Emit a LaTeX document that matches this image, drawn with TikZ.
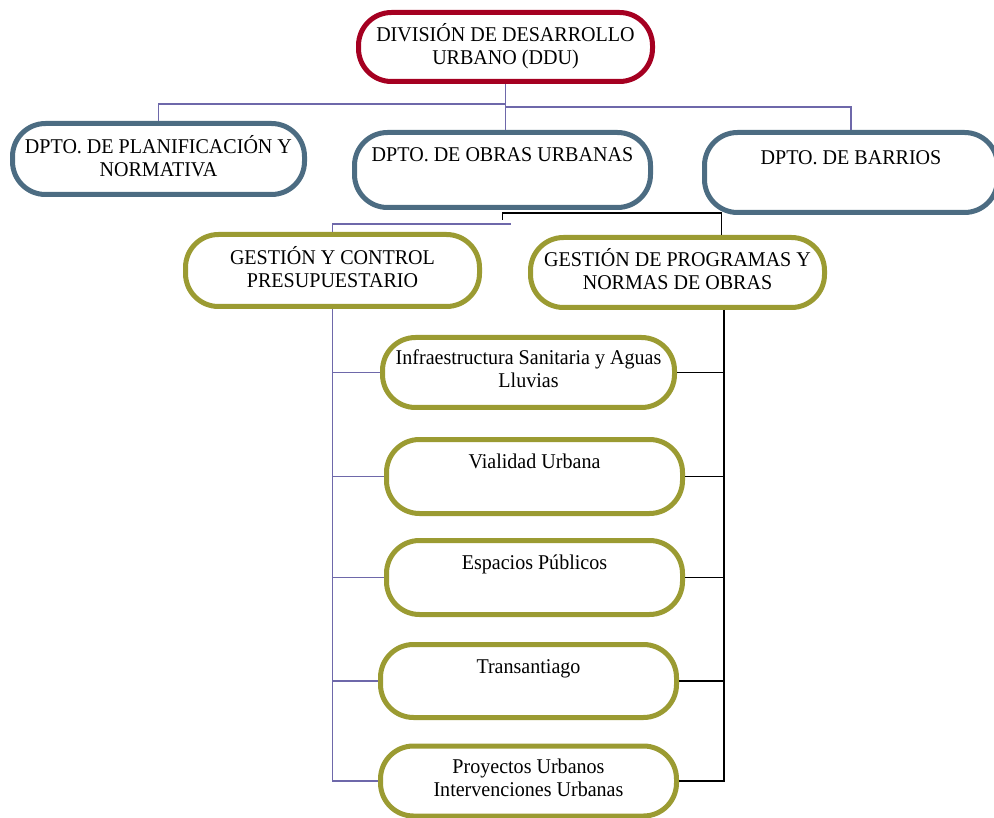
\documentclass[tikz,border=0pt]{standalone}
\usepackage{fontspec}
\setmainfont[FakeStretch=0.955]{Liberation Serif}
\usepackage{tikz}

\definecolor{dirred}{RGB}{165,0,33}
\definecolor{dptoblue}{RGB}{76,108,130}
\definecolor{secolive}{RGB}{155,155,50}
\definecolor{linkpurple}{RGB}{110,104,170}

\begin{document}
\begin{tikzpicture}[x=1pt,y=-1pt,
    unit/.style={draw, line width=5pt, rounded corners=33pt, align=center, inner sep=2pt,
      font=\fontsize{21}{23}\selectfont,
      execute at begin node={\rule{0pt}{26pt}}, execute at end node={\strut}},
    dirbox/.style={unit, draw=dirred},
    dptobox/.style={unit, draw=dptoblue},
    secbox/.style={unit, draw=secolive},
    plink/.style={draw=linkpurple, line width=1.4pt},
    blink/.style={draw=black, line width=1.6pt}]
    \useasboundingbox (0,0) rectangle (994,818);

    % division
    \node[dirbox, minimum width=294pt, minimum height=69pt] (ddu) at (505.5,47)
      {DIVISIÓN DE DESARROLLO\\URBANO (DDU)};

    % departamentos
    \node[dptobox, minimum width=292pt, minimum height=71pt] (plan) at (158.5,159)
      {DPTO. DE PLANIFICACIÓN Y\\NORMATIVA};
    \node[dptobox, minimum width=296pt, minimum height=75pt] (obras) at (502.5,170)
      {DPTO. DE OBRAS URBANAS\\};
    \node[dptobox, minimum width=293pt, minimum height=80pt] (barrios) at (851,172.5)
      {DPTO. DE BARRIOS\\};

    % gestion
    \node[secbox, minimum width=294pt, minimum height=72pt] (gcp) at (332.5,270.5)
      {GESTIÓN Y CONTROL\\PRESUPUESTARIO};
    \node[secbox, minimum width=294pt, minimum height=70pt] (gpno) at (677.5,272.5)
      {GESTIÓN DE PROGRAMAS Y\\NORMAS DE OBRAS};

    % areas
    \node[secbox, minimum width=292pt, minimum height=70pt] (infra) at (528.5,372.5)
      {Infraestructura Sanitaria y Aguas\\Lluvias};
    \node[secbox, minimum width=296pt, minimum height=74pt] (vial) at (534.5,476.5)
      {Vialidad Urbana\\};
    \node[secbox, minimum width=296pt, minimum height=74pt] (esp) at (534.5,577.5)
      {Espacios Públicos\\};
    \node[secbox, minimum width=296pt, minimum height=73pt] (trans) at (528.5,681)
      {Transantiago\\};
    \node[secbox, minimum width=296pt, minimum height=70pt] (proy) at (528.5,781)
      {Proyectos Urbanos\\Intervenciones Urbanas};

    % lineas
    \draw[plink] (ddu.south) -- (ddu.south |- obras.north);
    \draw[plink] (ddu.south) ++(0,20) -| (plan.north);
    \draw[plink] (ddu.south) ++(0,23) -| (barrios.north);

    \draw[plink] (gcp.north) |- ([xshift=8pt,yshift=-14pt]obras.south);
    \draw[blink] ([yshift=-10pt]obras.south) -- ++(0,-7) -| ([xshift=44pt]gpno.north);

    \coordinate (rtop) at ([xshift=46.5pt]gpno.south);
    \draw[plink] (gcp.south) |- (proy.west);
    \draw[blink] (rtop) |- (proy.east);
    \foreach \n in {infra,vial,esp,trans} {
      \draw[plink] (gcp.south |- \n.west) -- (\n.west);
      \draw[blink] (\n.east) -- (\n.east -| rtop);
    }
  \end{tikzpicture}
\end{document}
